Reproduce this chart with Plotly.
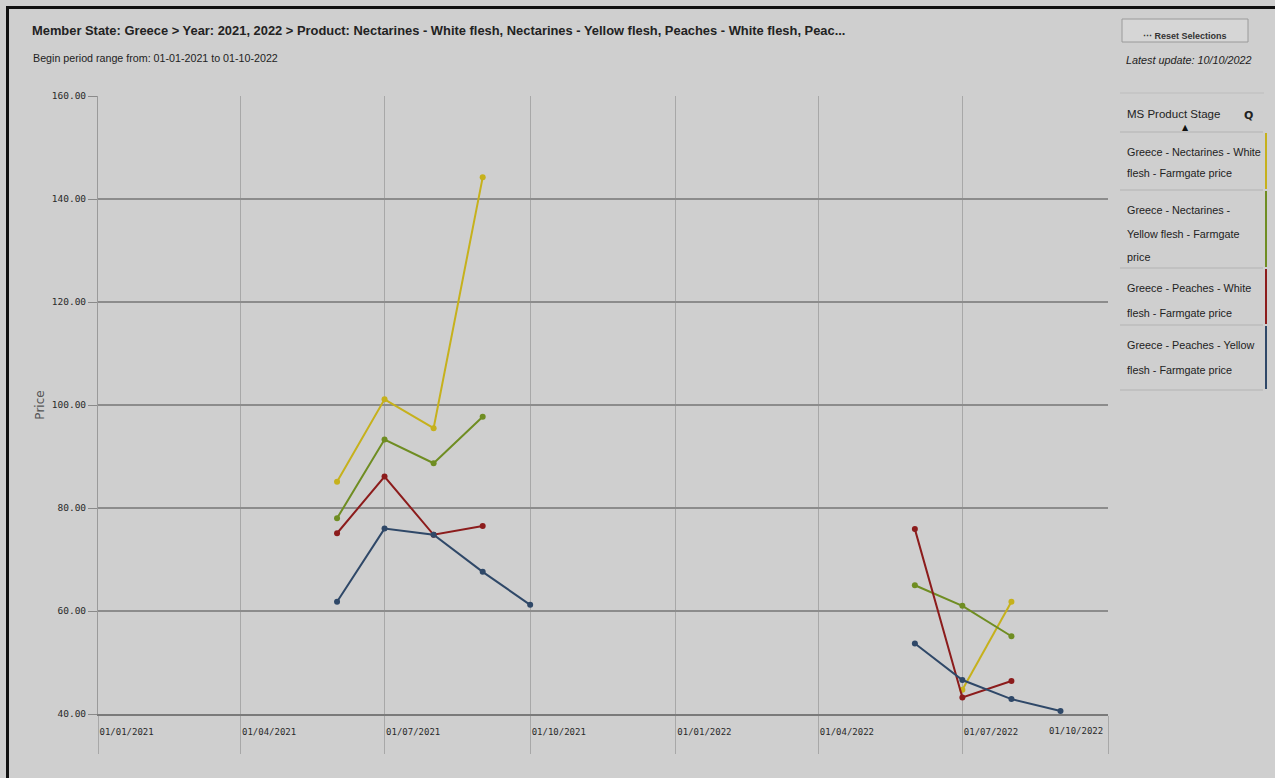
import plotly.graph_objects as go

# ---------------- data ----------------
months = ["2021-06-01", "2021-07-01", "2021-08-01", "2021-09-01", "2021-10-01",
          "2022-01-01",
          "2022-06-01", "2022-07-01", "2022-08-01", "2022-09-01"]

nect_white = [85.1, 101.1, 95.5, 144.2, None, None, None, 44.7, 61.8, None]
nect_yellow = [78.0, 93.3, 88.7, 97.7, None, None, 65.0, 61.0, 55.1, None]
peach_white = [75.1, 86.1, 74.8, 76.5, None, None, 75.9, 43.2, 46.4, None]
peach_yellow = [61.8, 76.0, 74.8, 67.6, 61.2, None, 53.7, 46.6, 42.9, 40.6]

series_names = [
    "Greece - Nectarines - White flesh - Farmgate price",
    "Greece - Nectarines - Yellow flesh - Farmgate price",
    "Greece - Peaches - White flesh - Farmgate price",
    "Greece - Peaches - Yellow flesh - Farmgate price",
]
legend_lines = [
    ["Greece - Nectarines - White", "flesh - Farmgate price"],
    ["Greece - Nectarines -", "Yellow flesh - Farmgate", "price"],
    ["Greece - Peaches - White", "flesh - Farmgate price"],
    ["Greece - Peaches - Yellow", "flesh - Farmgate price"],
]
series_values = [nect_white, nect_yellow, peach_white, peach_yellow]
colors = ["#c6b11c", "#6f8d22", "#8c1c1c", "#2f4868"]

x_tickvals = ["2021-01-01", "2021-04-01", "2021-07-01", "2021-10-01",
              "2022-01-01", "2022-04-01", "2022-07-01"]
x_ticktext = ["01/01/2021", "01/04/2021", "01/07/2021", "01/10/2021",
              "01/01/2022", "01/04/2022", "01/07/2022"]
x_last_tick = "2022-10-01"
x_last_text = "01/10/2022"
x_range = ["2021-01-01", "2022-10-01"]
y_range = [40, 160]

title_text = ("Member State: Greece > Year: 2021, 2022 > Product: Nectarines - White flesh, "
              "Nectarines - Yellow flesh, Peaches - White flesh, Peac...")
subtitle_text = "Begin period range from: 01-01-2021 to 01-10-2022"

# ---------------- layout helpers ----------------
W, H = 1275, 778
L, R, T, B = 98, 1108, 96, 714


def px(x):
    return (x - L) / (R - L)


def py(y):
    return (B - y) / (B - T)


BG = "#cfcfcf"
SANS = "Liberation Sans, Arial, sans-serif"
MONO = "DejaVu Sans Mono, monospace"

fig = go.Figure()
for name, vals, col in zip(series_names, series_values, colors):
    fig.add_trace(go.Scatter(
        x=months, y=vals, name=name, mode="lines+markers",
        connectgaps=False,
        line=dict(color=col, width=2),
        marker=dict(color=col, size=6),
    ))

shapes = []
annotations = []

# outer frame (left/top black border)
shapes.append(dict(type="rect", xref="paper", yref="paper",
                   x0=px(7.5), x1=px(1300), y0=py(7.5), y1=py(800),
                   line=dict(color="#111111", width=3), fillcolor="rgba(0,0,0,0)",
                   layer="below"))

# title + subtitle
annotations.append(dict(xref="paper", yref="paper", x=px(30), y=py(30),
                        xanchor="left", yanchor="middle", showarrow=False,
                        text="<b>" + title_text + "</b>",
                        font=dict(family=SANS, size=12.9, color="#222222")))
annotations.append(dict(xref="paper", yref="paper", x=px(31), y=py(58),
                        xanchor="left", yanchor="middle", showarrow=False,
                        text=subtitle_text,
                        font=dict(family=SANS, size=10.7, color="#222222")))

# reset selections button + latest update
shapes.append(dict(type="rect", xref="paper", yref="paper",
                   x0=px(1122), x1=px(1248), y0=py(19), y1=py(42),
                   line=dict(color="#9a9a9a", width=1), fillcolor="#d6d6d6"))
annotations.append(dict(xref="paper", yref="paper", x=px(1185), y=py(36),
                        xanchor="center", yanchor="middle", showarrow=False,
                        text="<b>⋯ Reset Selections</b>",
                        font=dict(family=SANS, size=9, color="#333333")))
annotations.append(dict(xref="paper", yref="paper", x=px(1124), y=py(60),
                        xanchor="left", yanchor="middle", showarrow=False,
                        text="<i>Latest update: 10/10/2022</i>",
                        font=dict(family=SANS, size=10.8, color="#222222")))

# legend-like list box
shapes.append(dict(type="line", xref="paper", yref="paper",
                   x0=px(1120), x1=px(1264), y0=py(93), y1=py(93),
                   line=dict(color="#bdbdbd", width=1)))
annotations.append(dict(xref="paper", yref="paper", x=px(1125), y=py(114),
                        xanchor="left", yanchor="middle", showarrow=False,
                        text="MS Product Stage",
                        font=dict(family=SANS, size=11.5, color="#222222")))
annotations.append(dict(xref="paper", yref="paper", x=px(1248), y=py(115),
                        xanchor="center", yanchor="middle", showarrow=False,
                        text="<b>Q</b>",
                        font=dict(family="DejaVu Sans", size=11, color="#222222")))
annotations.append(dict(xref="paper", yref="paper", x=px(1185), y=py(127),
                        xanchor="center", yanchor="middle", showarrow=False,
                        text="▲", font=dict(family="DejaVu Sans", size=8, color="#111111")))

seps = [132, 190, 268, 325, 390]
line_centers = [[152, 173], [210, 234, 257], [288, 313], [345, 370]]
for i, (lines, col) in enumerate(zip(legend_lines, colors)):
    shapes.append(dict(type="line", xref="paper", yref="paper",
                       x0=px(1120), x1=px(1263), y0=py(seps[i]), y1=py(seps[i]),
                       line=dict(color="#b3b3b3", width=1)))
    shapes.append(dict(type="line", xref="paper", yref="paper",
                       x0=px(1266), x1=px(1266), y0=py(seps[i] + 1), y1=py(seps[i + 1] - 1),
                       line=dict(color=col, width=2)))
    for txt, yc in zip(lines, line_centers[i]):
        annotations.append(dict(xref="paper", yref="paper", x=px(1125), y=py(yc),
                                xanchor="left", yanchor="middle", showarrow=False,
                                text=txt,
                                font=dict(family=SANS, size=10.8, color="#222222")))
shapes.append(dict(type="line", xref="paper", yref="paper",
                   x0=px(1120), x1=px(1263), y0=py(seps[-1]), y1=py(seps[-1]),
                   line=dict(color="#b3b3b3", width=1)))

# last x tick label (right-aligned so it fits in plot)
annotations.append(dict(xref="x", yref="paper", x=x_last_tick, y=py(731),
                        xanchor="right", yanchor="middle", showarrow=False,
                        text=x_last_text, xshift=-3,
                        font=dict(family=MONO, size=9, color="#2a2a2a")))

fig.update_layout(
    width=W, height=H,
    margin=dict(l=L, r=W - R, t=T, b=H - B),
    paper_bgcolor=BG, plot_bgcolor=BG,
    showlegend=False,
    shapes=shapes,
    annotations=annotations,
    xaxis=dict(
        type="date", range=x_range,
        tickvals=x_tickvals + [x_last_tick],
        ticktext=x_ticktext + [""],
        ticklabelposition="outside right",
        ticks="outside", ticklen=38, tickcolor="#a8a8a8", tickwidth=1,
        ticklabelstandoff=8,
        showgrid=True, gridcolor="#a8a8a8", gridwidth=1,
        showline=True, linecolor="#7a7a7a", linewidth=2,
        zeroline=False,
        tickfont=dict(family=MONO, size=9, color="#2a2a2a"),
    ),
    yaxis=dict(
        range=y_range, dtick=20, tick0=40, tickformat=".2f",
        ticks="outside", ticklen=9, tickcolor="#8a8a8a",
        showgrid=True, gridcolor="#8c8c8c", gridwidth=2,
        showline=True, linecolor="#9a9a9a", linewidth=1,
        zeroline=False,
        tickfont=dict(family=MONO, size=9.5, color="#2a2a2a"),
        title=dict(text="Price", standoff=4,
                   font=dict(family="DejaVu Sans", size=12, color="#555555")),
    ),
)

fig.write_html("out.html",
               config={"displayModeBar": False},
               post_script="document.body.style.margin='0px';document.body.style.padding='0px';")
